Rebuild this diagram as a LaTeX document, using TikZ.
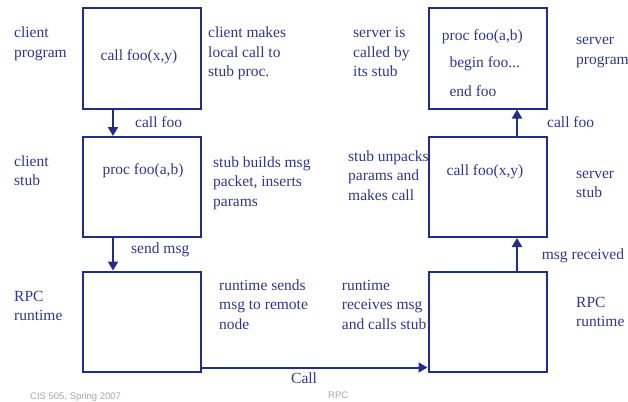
\documentclass[tikz,border=0pt]{standalone}
\usepackage{fontspec}
\setmainfont{Liberation Serif}
\newfontfamily\footfont{Liberation Sans}
\usetikzlibrary{arrows.meta}
\definecolor{ink}{RGB}{46,54,142}
\definecolor{edge}{RGB}{36,44,138}
\definecolor{footgray}{RGB}{165,165,165}

\begin{document}
\begin{tikzpicture}[x=1pt,y=-1pt,
  box/.style={draw=edge, line width=2pt, minimum width=118pt, minimum height=100pt, inner sep=0},
  lbl/.style={text=ink, font=\fontsize{15.5}{19.5}\selectfont, align=left, anchor=base west, inner sep=0},
  mid/.style={lbl, anchor=base},
  flow/.style={draw=edge, line width=2pt, -{Triangle[length=9pt,width=10pt]}},
  foot/.style={text=footgray, font=\footfont\fontsize{9.5}{11}\selectfont, anchor=base west, inner sep=0}]
\useasboundingbox (0,0) rectangle (628,401);

% the six layers: client side on the left, server side on the right
\node[box] (cprog) at (142,58.5) {};
\node[box] (cstub) at (142,187) {};
\node[box] (crt)   at (142,321.5) {};
\node[box] (sprog) at (487.5,58.5) {};
\node[box] (sstub) at (487.5,187) {};
\node[box] (srt)   at (487.5,321.5) {};

% flow of the call through the layers
\draw[flow] ([xshift=-29pt]cprog.south) -- ([xshift=-29pt]cstub.north);
\draw[flow] ([xshift=-29pt]cstub.south) -- ([xshift=-29pt]crt.north);
\draw[flow] ([yshift=5pt]crt.south east) -- ([yshift=5pt]srt.south west);
\draw[flow] ([xshift=29.5pt]srt.north) -- ([xshift=29.5pt]sstub.south);
\draw[flow] ([xshift=29.5pt]sstub.north) -- ([xshift=29.5pt]sprog.south);

% text inside the boxes
\node[mid] (t1) at (139,61) {call foo(x,y)};
\node[mid] (t2) at (143,174) {proc foo(a,b)};
\node[lbl] (t3) at (441.7,41) {proc foo(a,b)};
\node[lbl] (t4) at (449.3,68) {begin foo...};
\node[lbl] (t5) at (449.3,97) {end foo};
\node[mid] (t6) at (485,175) {call foo(x,y)};

% layer names (anchored at the baseline of the last line)
\node[lbl] (n1) at (14,57.5)  {client\\program};
\node[lbl] (n2) at (14,185.5) {client\\stub};
\node[lbl] (n3) at (14,320.5) {RPC\\runtime};
\node[lbl] (n4) at (576,64.5)  {server\\program};
\node[lbl] (n5) at (576,197.5) {server\\stub};
\node[lbl] (n6) at (576,326.5) {RPC\\runtime};

% explanations
\node[lbl] (e1) at (208,77)  {client makes\\local call to\\stub proc.};
\node[lbl] (e2) at (213,206) {stub builds msg\\packet, inserts\\params};
\node[lbl] (e3) at (219,329) {runtime sends\\msg to remote\\node};
\node[lbl] (e4) at (353,77)  {server is\\called by\\its stub};
\node[lbl] (e5) at (348,200) {stub unpacks\\params and\\makes call};
\node[lbl] (e6) at (341.7,329) {runtime\\receives msg\\and calls stub};

% arrow labels
\node[lbl] (a1) at (135,127) {call foo};
\node[lbl] (a2) at (131,253) {send msg};
\node[lbl] (a3) at (291,383) {Call};
\node[lbl] (a4) at (541.7,259) {msg received};
\node[lbl] (a5) at (547,127) {call foo};

% footer
\node[foot] (f1) at (30,399) {CIS 505, Spring 2007};
\node[foot] (f2) at (328,398) {RPC};
\end{tikzpicture}
\end{document}
